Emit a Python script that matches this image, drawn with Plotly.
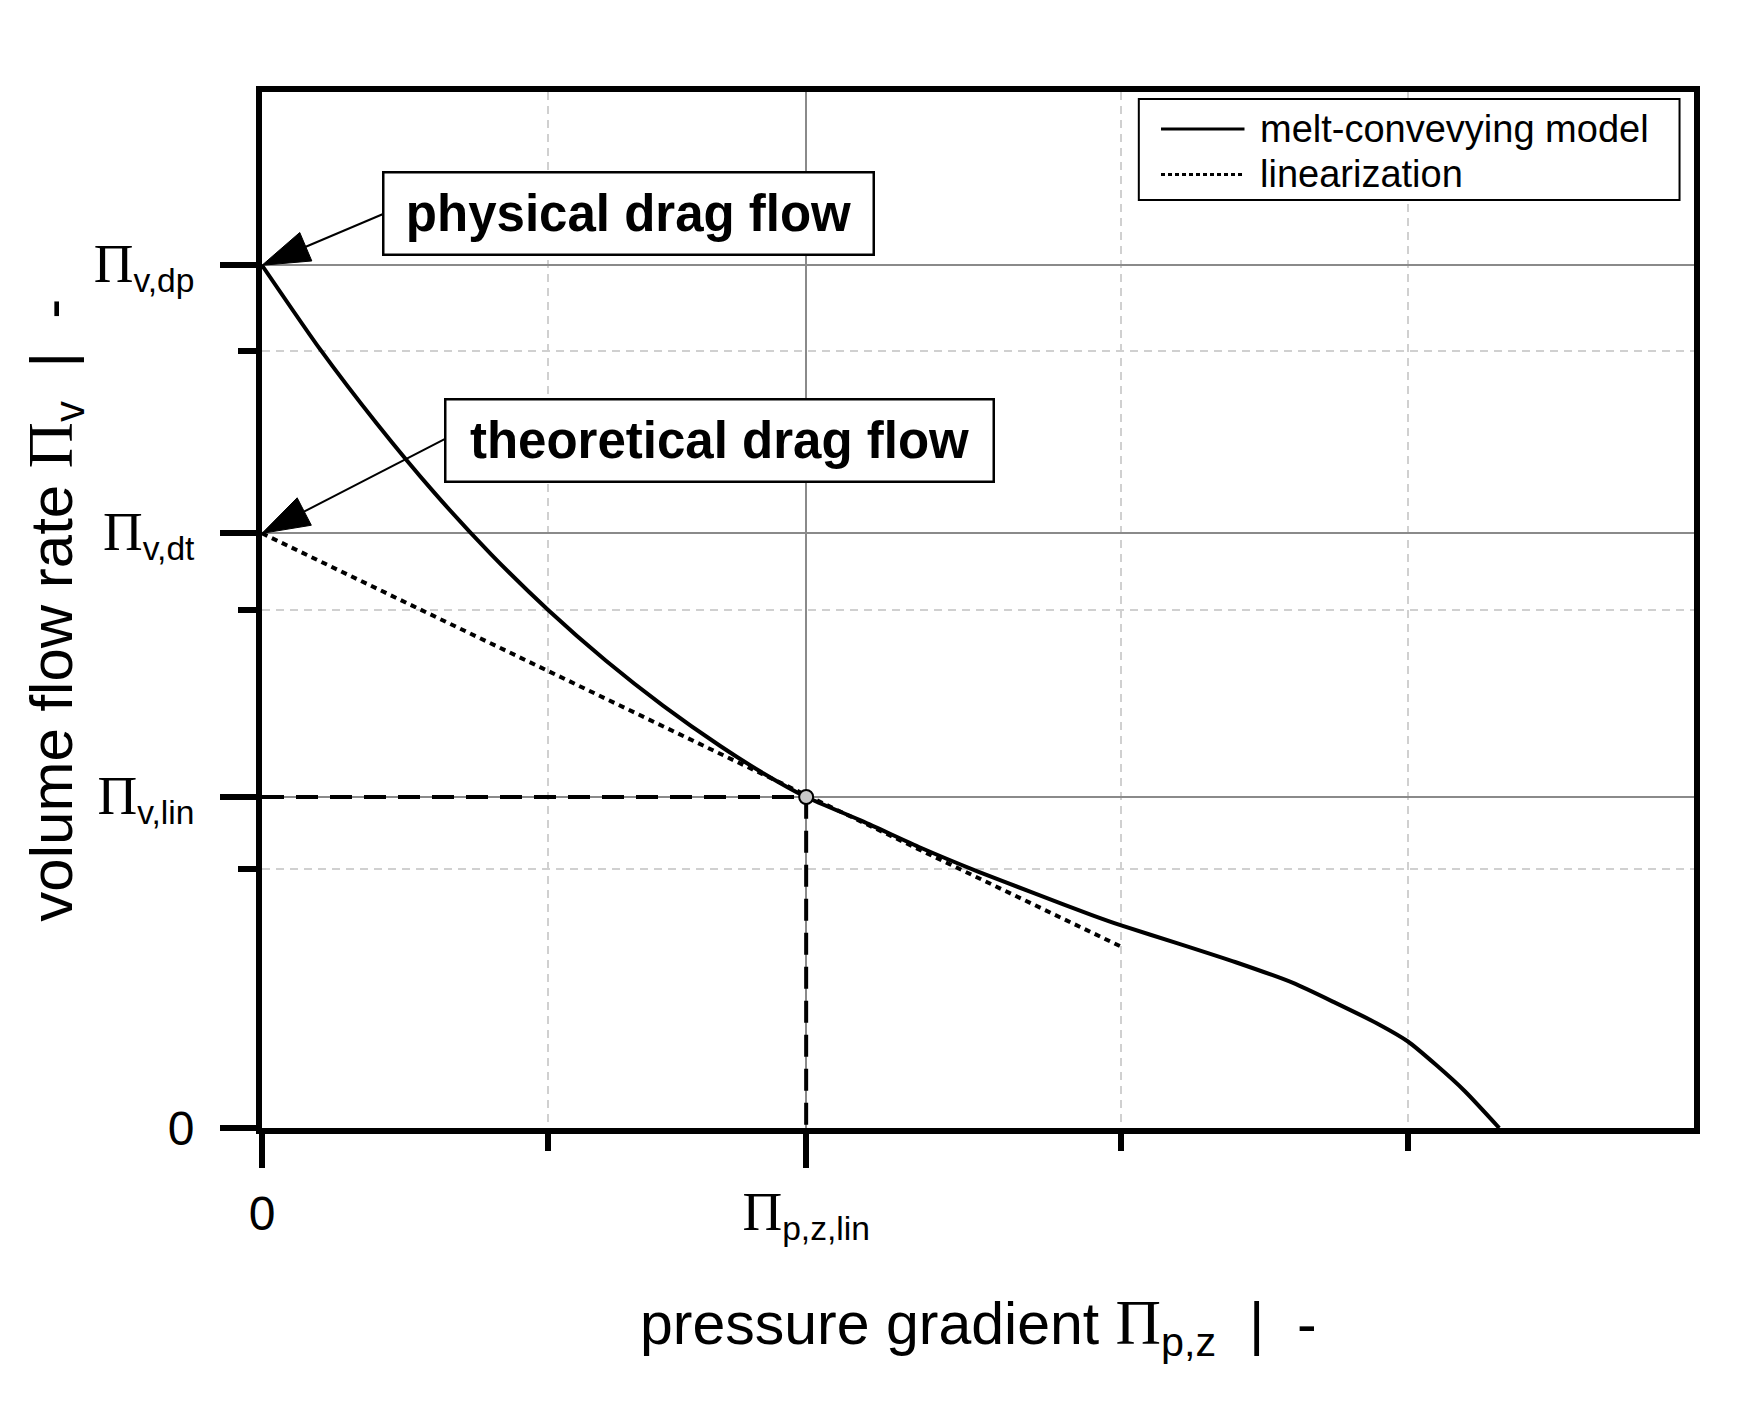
import plotly.graph_objects as go

# ---------------- data (dimensionless) ----------------
pz_model = [0.0, 0.2, 0.4, 0.6, 0.8, 1.0, 1.2, 1.4, 1.6, 1.75, 1.9,
            2.1, 2.3, 2.5, 2.7, 2.9, 3.0, 3.2, 3.4, 3.6, 3.75, 3.9,
            4.0, 4.1, 4.2, 4.32]
pv_model = [3.331, 3.011, 2.721, 2.455, 2.215, 1.999, 1.805, 1.631, 1.475, 1.370, 1.278,
            1.183, 1.082, 0.990, 0.905, 0.821, 0.782, 0.712, 0.640, 0.560, 0.482, 0.400,
            0.335, 0.243, 0.142, 0.0]

pz_linear = [0.0, 3.0]
pv_linear = [2.296, 0.70]

pz_lin = 1.9        # Π_p,z,lin
pv_lin = 1.278      # Π_v,lin
pv_dt = 2.296       # Π_v,dt
pv_dp = 3.331       # Π_v,dp

x_minor = [1, 3, 4]
y_minor = [1, 2, 3]

box_labels = ["physical drag flow", "theoretical drag flow"]
box_x = [1.279, 1.596]
box_y = [3.530, 2.655]
box_w = [480, 538]
arrow_tail_x = [0.425, 0.641]
arrow_tail_y = [3.530, 2.662]
arrow_head_y = [pv_dp, pv_dt]

legend_labels = ["melt-convevying model", "linearization"]
legend_dash = ["solid", "4px,3px"]
legend_y = [0.9643, 0.9204]

SANS = "Liberation Sans, Arial, sans-serif"
SERIF_PI = "<span style=\"font-family:Liberation Serif;font-size:{}px\">Π</span>"

# ---------------- figure ----------------
fig = go.Figure()

# dashed guides to the linearisation point
fig.add_trace(go.Scatter(
    x=[0, pz_lin, pz_lin], y=[pv_lin, pv_lin, 0], mode="lines",
    line=dict(color="black", width=4, dash="22px,12px"),
    showlegend=False, hoverinfo="skip"))

fig.add_trace(go.Scatter(
    x=pz_model, y=pv_model, mode="lines", name=legend_labels[0], showlegend=False,
    line=dict(color="black", width=4, shape="spline", smoothing=0.6)))

fig.add_trace(go.Scatter(
    x=pz_linear, y=pv_linear, mode="lines", name=legend_labels[1], showlegend=False,
    line=dict(color="black", width=4, dash="6px,5px")))

fig.add_trace(go.Scatter(
    x=[pz_lin], y=[pv_lin], mode="markers", showlegend=False,
    marker=dict(size=14, color="#c8c8c8", line=dict(color="black", width=2))))

# arrows from the label boxes to the axis
for tx, ty, hy in zip(arrow_tail_x, arrow_tail_y, arrow_head_y):
    fig.add_trace(go.Scatter(
        x=[tx, 0], y=[ty, hy], mode="lines+markers", showlegend=False,
        hoverinfo="skip", cliponaxis=False,
        line=dict(color="black", width=2),
        marker=dict(symbol="arrow", size=[0, 50], angleref="previous",
                    color="black", opacity=1, line=dict(width=1, color="black"))))

for lab, bx, by, bw in zip(box_labels, box_x, box_y, box_w):
    fig.add_annotation(
        x=bx, y=by, xref="x", yref="y", text="<b>" + lab + "</b>",
        showarrow=False, font=dict(size=51, family=SANS, color="black"),
        bgcolor="white", bordercolor="black", borderwidth=2.5, borderpad=4,
        width=bw, height=72, align="center", valign="middle")

# legend drawn as a framed key in the upper right corner
fig.add_shape(type="rect", xref="paper", yref="paper",
              x0=0.6123, x1=0.9899, y0=0.8958, y1=0.9932,
              line=dict(color="black", width=2), fillcolor="white", layer="above")
for lab, dash, ly in zip(legend_labels, legend_dash, legend_y):
    fig.add_shape(type="line", xref="paper", yref="paper",
                  x0=0.6278, x1=0.6861, y0=ly, y1=ly, layer="above",
                  line=dict(color="black", width=3, dash=dash))
    fig.add_annotation(x=0.6954, y=ly, xref="paper", yref="paper",
                       xanchor="left", yanchor="middle", showarrow=False,
                       text=lab, font=dict(size=38, family=SANS, color="black"))

# axis titles
fig.add_annotation(
    x=0.5, y=-0.192, xref="paper", yref="paper", showarrow=False,
    xanchor="center", yanchor="middle",
    text="pressure gradient " + SERIF_PI.format(63) + "<sub>p,z</sub>\u00a0\u00a0|\u00a0\u00a0-",
    font=dict(size=59, family=SANS, color="black"))
fig.add_annotation(
    x=-0.1455, y=0.5, xref="paper", yref="paper", showarrow=False, textangle=-90,
    xanchor="center", yanchor="middle",
    text="volume flow rate " + SERIF_PI.format(64) + "<sub>v</sub>\u00a0\u00a0|\u00a0\u00a0-",
    font=dict(size=60, family=SANS, color="black"))

axis_common = dict(
    showline=True, mirror=True, linewidth=6, linecolor="black",
    ticks="outside", tickwidth=6, tickcolor="black",
    tickmode="array", showgrid=True, gridcolor="#8a8a8a", gridwidth=2,
    zeroline=False, tickfont=dict(size=48, family=SANS, color="black"),
)

fig.update_layout(
    width=1748, height=1406,
    margin=dict(l=254, r=62, t=84, b=286),
    paper_bgcolor="white", plot_bgcolor="white",
    xaxis=dict(
        range=[0, 5], ticklen=34, ticklabelstandoff=4,
        tickvals=[0, pz_lin],
        ticktext=["0", SERIF_PI.format(55) + "<sub>p,z,lin</sub>"],
        minor=dict(tickmode="array", tickvals=x_minor, ticks="outside",
                   ticklen=17, tickwidth=6, tickcolor="black", showgrid=True,
                   gridcolor="#d0d0d0", gridwidth=1.5, griddash="8px,6px"),
        **axis_common),
    yaxis=dict(
        range=[0, 4], ticklen=36, ticklabelstandoff=16,
        tickvals=[0, pv_lin, pv_dt, pv_dp],
        ticktext=["0",
                  SERIF_PI.format(55) + "<sub>v,lin</sub>",
                  SERIF_PI.format(55) + "<sub>v,dt</sub>",
                  SERIF_PI.format(55) + "<sub>v,dp</sub>"],
        minor=dict(tickmode="array", tickvals=y_minor, ticks="outside",
                   ticklen=18, tickwidth=6, tickcolor="black", showgrid=True,
                   gridcolor="#d0d0d0", gridwidth=1.5, griddash="8px,6px"),
        **axis_common),
    showlegend=False,
)

fig.write_html("out.html")
